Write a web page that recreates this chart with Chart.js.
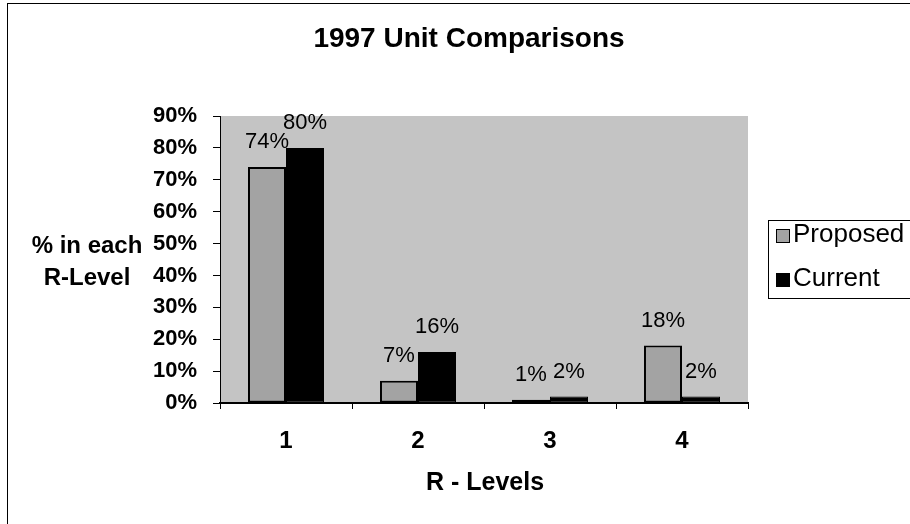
<!DOCTYPE html>
<html>
<head>
<meta charset="utf-8">
<script src="https://cdn.jsdelivr.net/npm/chart.js@4"></script>
<style>
  html, body { margin: 0; padding: 0; background: #ffffff; }
  #wrap { width: 910px; height: 524px; position: relative; }
</style>
</head>
<body>
<div id="wrap"><canvas id="c" width="910" height="524"></canvas></div>
<script>
const chartTitle = "1997 Unit Comparisons";
const xAxisTitle = "R - Levels";
const yAxisTitle = ["% in each", "R-Level"];
const categories = ["1", "2", "3", "4"];
const seriesNames = ["Proposed", "Current"];
const proposedValues = [74, 7, 1, 18];
const currentValues = [80, 16, 2, 2];
const yTickMax = 90;
const yTickStep = 10;

const FONT = "'Liberation Sans', Arial, sans-serif";
const PLOT_BG = "#c4c4c4";
const PROPOSED_FILL = "#a3a3a3";
const CURRENT_FILL = "#000000";

const decorPlugin = {
  id: "decor",
  beforeDraw(chart) {
    const ctx = chart.ctx;
    const a = chart.chartArea;
    ctx.save();
    ctx.fillStyle = "#ffffff";
    ctx.fillRect(0, 0, chart.width, chart.height);
    ctx.fillStyle = PLOT_BG;
    ctx.fillRect(a.left, a.top, a.right - a.left, a.bottom - a.top);
    ctx.strokeStyle = "#000";
    ctx.lineWidth = 1;
    ctx.strokeRect(7.5, 3.5, chart.width + 10, chart.height + 10);
    ctx.restore();
  },
  afterDatasetsDraw(chart) {
    const ctx = chart.ctx;
    ctx.save();
    ctx.fillStyle = "#000";
    ctx.font = "22px " + FONT;
    ctx.textAlign = "center";
    ctx.textBaseline = "middle";
    chart.data.datasets.forEach((ds, i) => {
      const meta = chart.getDatasetMeta(i);
      meta.data.forEach((el, j) => {
        ctx.fillText(ds.data[j] + "%", el.x, el.y - 25);
      });
    });
    ctx.restore();
  },
  afterDraw(chart) {
    const ctx = chart.ctx;
    const a = chart.chartArea;
    ctx.save();
    ctx.fillStyle = "#000";
    ctx.textAlign = "center";
    ctx.textBaseline = "middle";
    // chart title
    ctx.font = "bold 28px " + FONT;
    ctx.fillText(chartTitle, 469, 39);
    // x axis title
    ctx.font = "bold 25px " + FONT;
    ctx.fillText(xAxisTitle, (a.left + a.right) / 2 + 1, 483);
    // y axis title
    ctx.font = "bold 24px " + FONT;
    yAxisTitle.forEach((t, i) => ctx.fillText(t, 87, 246 + i * 32));
    // legend
    const lx = 768, ly = 220, lw = 150, lh = 78;
    ctx.strokeStyle = "#000";
    ctx.lineWidth = 1;
    ctx.strokeRect(lx + 0.5, ly + 0.5, lw, lh);
    const fills = [PROPOSED_FILL, CURRENT_FILL];
    ctx.font = "26px " + FONT;
    ctx.textAlign = "left";
    seriesNames.forEach((n, i) => {
      const sy = 229 + i * 44;
      ctx.fillStyle = fills[i];
      ctx.fillRect(776, sy, 14, 14);
      ctx.strokeRect(776.5, sy + 0.5, 13, 13);
      ctx.fillStyle = "#000";
      ctx.fillText(n, 793, sy + 6);
    });
    ctx.restore();
  }
};

new Chart(document.getElementById("c"), {
  type: "bar",
  data: {
    labels: categories,
    datasets: [
      {
        label: seriesNames[0],
        data: proposedValues,
        backgroundColor: PROPOSED_FILL,
        borderColor: "#000",
        borderWidth: 2,
        borderSkipped: false,
        categoryPercentage: 0.576,
        barPercentage: 1.0
      },
      {
        label: seriesNames[1],
        data: currentValues,
        backgroundColor: CURRENT_FILL,
        borderColor: "#000",
        borderWidth: 1,
        borderSkipped: false,
        categoryPercentage: 0.576,
        barPercentage: 1.0
      }
    ]
  },
  options: {
    responsive: false,
    animation: false,
    devicePixelRatio: 1,
    layout: { padding: { left: 0, top: 116, right: 162, bottom: 61 } },
    plugins: {
      legend: { display: false },
      title: { display: false },
      tooltip: { enabled: false }
    },
    scales: {
      x: {
        afterFit(s) { s.height = 60; },
        grid: {
          offset: true,
          drawOnChartArea: false,
          drawTicks: true,
          tickLength: 6,
          color: "#000",
          lineWidth: 1
        },
        border: { display: true, color: "#000", width: 2 },
        ticks: {
          color: "#000",
          font: { family: FONT, size: 24, weight: "bold" },
          padding: 18,
          maxRotation: 0
        }
      },
      y: {
        min: 0,
        max: yTickMax,
        afterFit(s) { s.width = 220; },
        grid: {
          drawOnChartArea: false,
          drawTicks: true,
          tickLength: 7,
          color: "#000",
          lineWidth: 1
        },
        border: { display: true, color: "#000", width: 1 },
        ticks: {
          stepSize: yTickStep,
          color: "#000",
          font: { family: FONT, size: 22, weight: "bold" },
          padding: 16,
          callback: (v) => v + "%"
        }
      }
    }
  },
  plugins: [decorPlugin]
});
</script>
</body>
</html>
